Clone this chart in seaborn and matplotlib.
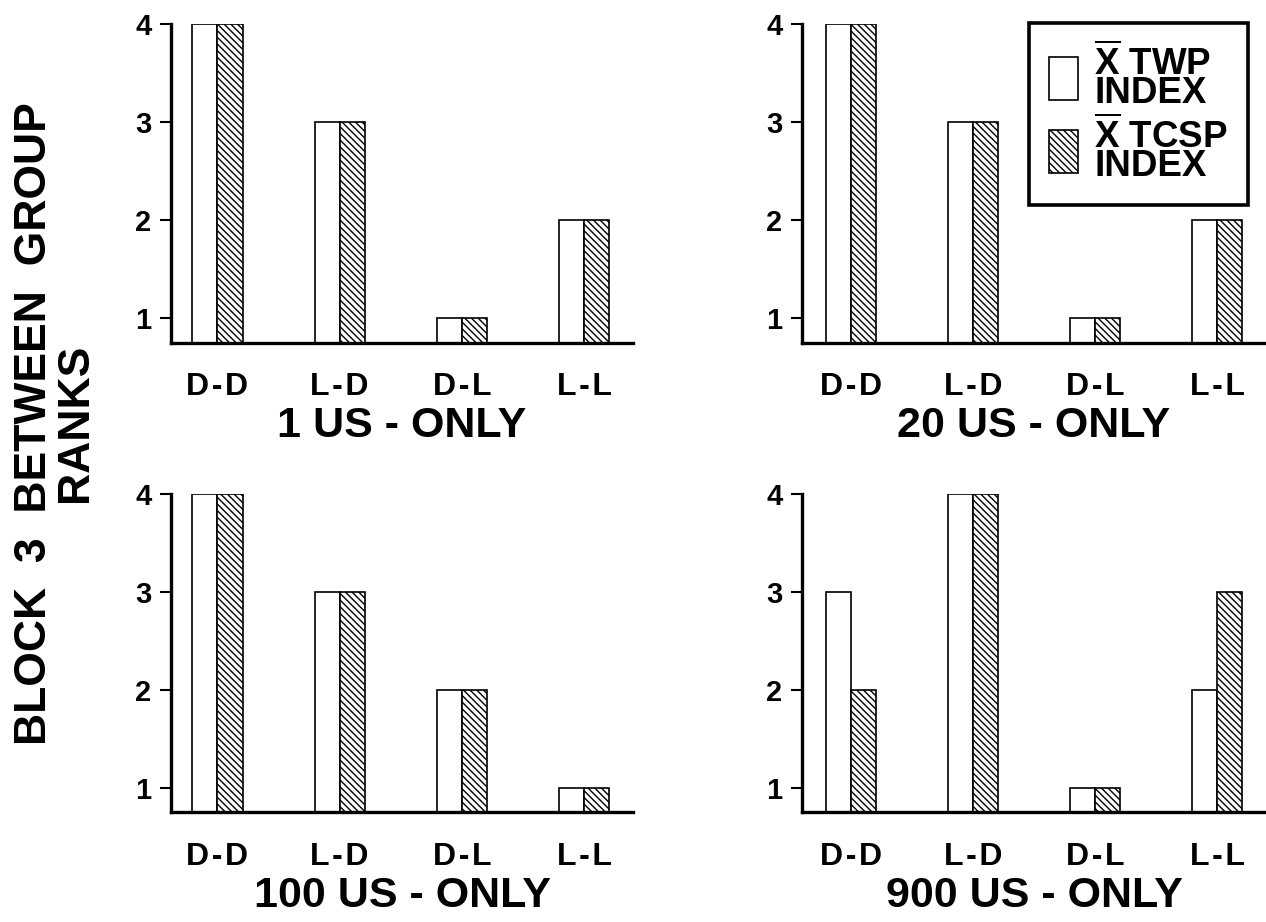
import matplotlib
matplotlib.use("Agg")
import matplotlib.pyplot as plt
import seaborn as sns
import pandas as pd
from matplotlib.patches import Patch

# ---- data ----
pairs = ["D-D", "L-D", "D-L", "L-L"]
pair_labels = ["D\u200a-\u200aD", "L\u200a-\u200aD", "D\u200a-\u200aL", "L\u200a-\u200aL"]
series = ["TWP", "TCSP"]
panel_titles = ["1 US - ONLY", "20 US - ONLY", "100 US - ONLY", "900 US - ONLY"]
twp_1 = [4, 3, 1, 2]
tcsp_1 = [4, 3, 1, 2]
twp_20 = [4, 3, 1, 2]
tcsp_20 = [4, 3, 1, 2]
twp_100 = [4, 3, 2, 1]
tcsp_100 = [4, 3, 2, 1]
twp_900 = [3, 4, 1, 2]
tcsp_900 = [2, 4, 1, 3]
y_ticks = [1, 2, 3, 4]
y_label = "BLOCK  3  BETWEEN  GROUP\nRANKS"
legend_labels = [r"$\overline{\mathrm{X}}$ TWP" + "\nINDEX",
                 r"$\overline{\mathrm{X}}$ TCSP" + "\nINDEX"]

panels = [(twp_1, tcsp_1), (twp_20, tcsp_20), (twp_100, tcsp_100), (twp_900, tcsp_900)]

sns.set_style("ticks")
plt.rcParams["font.family"] = ["Liberation Sans", "DejaVu Sans"]
plt.rcParams["font.weight"] = "bold"
plt.rcParams["mathtext.fontset"] = "custom"
plt.rcParams["mathtext.rm"] = "Liberation Sans:bold"
plt.rcParams["mathtext.bf"] = "Liberation Sans:bold"
plt.rcParams["hatch.linewidth"] = 1.0
plt.rcParams["hatch.color"] = "black"
for k in ["text.color", "axes.labelcolor", "xtick.color", "ytick.color", "axes.edgecolor"]:
    plt.rcParams[k] = "black"

fig = plt.figure(figsize=(12.66, 9.22), dpi=100)
fig.patch.set_facecolor("white")

positions = [
    [0.1351, 0.6285, 0.3650, 0.3454],
    [0.6335, 0.6285, 0.3665, 0.3454],
    [0.1351, 0.1188, 0.3650, 0.3454],
    [0.6335, 0.1188, 0.3665, 0.3454],
]
xlims = [(-0.38, 3.40), (-0.40, 3.40), (-0.38, 3.40), (-0.40, 3.40)]

HATCH = "\\" * 5
axes = []
for i, ((twp, tcsp), title) in enumerate(zip(panels, panel_titles)):
    ax = fig.add_axes(positions[i])
    df = pd.DataFrame({
        "pair": pairs * 2,
        "rank": list(twp) + list(tcsp),
        "index": [series[0]] * 4 + [series[1]] * 4,
    })
    sns.barplot(data=df, x="pair", y="rank", hue="index", order=pairs,
                hue_order=series, palette=["white", "white"], saturation=1,
                edgecolor="black", linewidth=1.2, width=0.41, ax=ax,
                legend=False, errorbar=None)
    for patch in ax.containers[1]:
        patch.set_hatch(HATCH)
    ax.set_ylim(0.75, 4.0)
    ax.set_xlim(*xlims[i])
    ax.set_yticks(y_ticks)
    ax.set_yticklabels([str(t) for t in y_ticks], fontsize=21, fontweight="bold")
    ax.set_xticks(range(4))
    ax.set_xticklabels(pair_labels, fontsize=23, fontweight="bold")
    ax.tick_params(axis="x", length=0, pad=21)
    ax.tick_params(axis="y", length=8, width=1.5, direction="out", pad=6)
    ax.set_xlabel(title, fontsize=31, fontweight="bold", labelpad=3)
    ax.set_ylabel("")
    sns.despine(ax=ax)
    for s in ["left", "bottom"]:
        ax.spines[s].set_linewidth(2.4)
    ax.patch.set_alpha(0)
    axes.append(ax)

fig.text(0.0438, 0.541, y_label, rotation=90, ha="center", va="center",
         multialignment="center", fontsize=32, fontweight="bold", linespacing=1.0)

handles = [Patch(facecolor="white", edgecolor="black", linewidth=1.2),
           Patch(facecolor="white", edgecolor="black", linewidth=1.2, hatch=HATCH)]
leg = fig.legend(handles, legend_labels, loc="upper right",
                 bbox_to_anchor=(0.9858, 0.975), bbox_transform=fig.transFigure,
                 handlelength=0.78, handleheight=1.4,
                 handletextpad=0.45, labelspacing=0.15, borderpad=0.55,
                 borderaxespad=0, fancybox=False, framealpha=1,
                 edgecolor="black", prop={"weight": "bold", "size": 26.5})
leg.get_frame().set_linewidth(2.6)
for t in leg.get_texts():
    t.set_linespacing(0.75)

fig.savefig("out.png", dpi=100, facecolor="white")
